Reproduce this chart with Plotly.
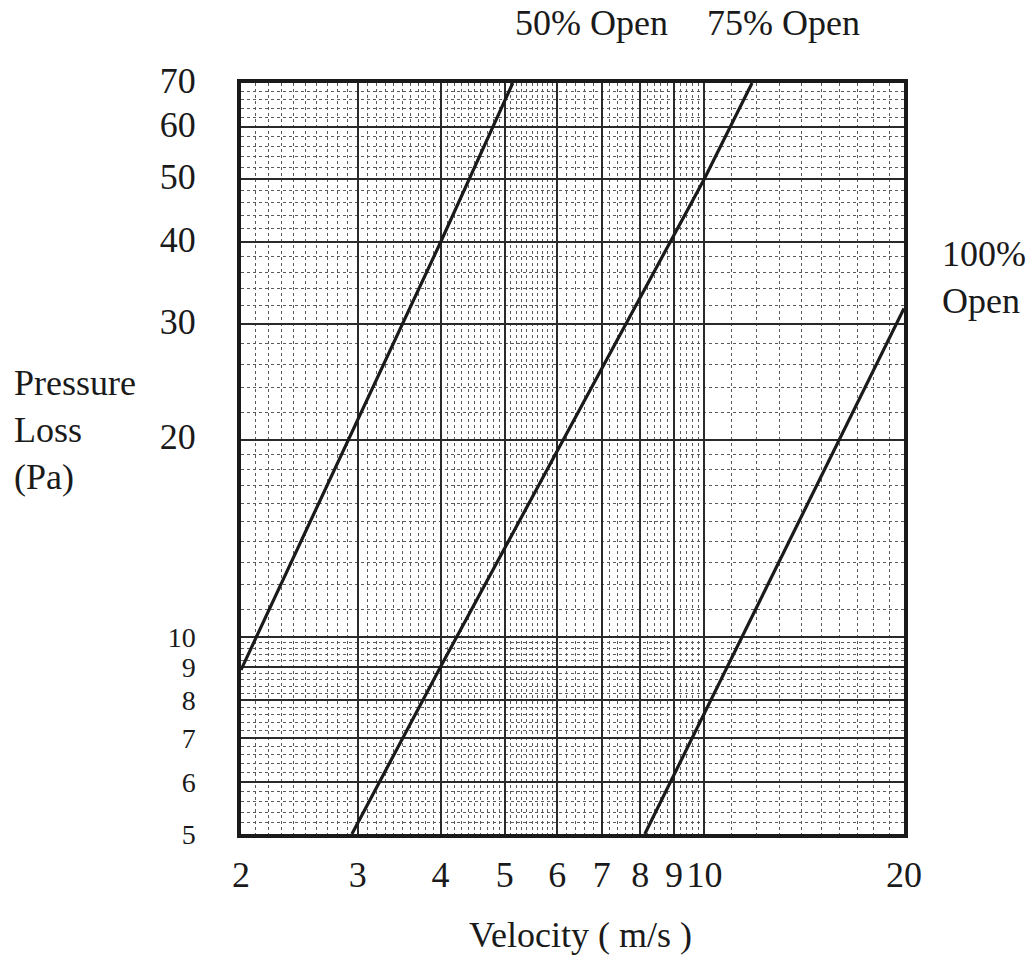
import numpy as np
import plotly.graph_objects as go

# ---- data ----
v_50 = [2.0, 4.0, 5.14]
p_50 = [8.9, 40.0, 70.0]

v_75 = [2.94, 4.0, 10.0, 11.8]
p_75 = [5.0, 9.0, 50.0, 70.0]

v_100 = [8.13, 11.4, 20.0]
p_100 = [5.0, 10.0, 31.7]

x_ticks = [2, 3, 4, 5, 6, 7, 8, 9, 10, 20]
x_ticktext = ["2", "3", "4", "5", "6", "7", "8", "9", "10", "20"]
y_ticks = [5, 6, 7, 8, 9, 10, 20, 30, 40, 50, 60, 70]
y_ticktext = ["5", "6", "7", "8", "9", "10", "20", "30", "40", "50", "60", "70"]

series_names = ["50% Open", "75% Open", "100% Open"]

# ---- graph-paper minor grid ----
def steps(a, b, s):
    vals = np.arange(a + s, b - s / 2, s)
    return [round(float(v), 3) for v in vals]

x_minor = steps(2, 6, 0.1) + steps(6, 10, 0.2) + steps(10, 20, 1)
x_minor = [v for v in x_minor if v not in x_ticks]
y_minor = steps(5, 10, 0.2) + steps(10, 20, 1) + steps(20, 70, 2)
y_minor = [v for v in y_minor if v not in y_ticks]

FONT = "Liberation Serif, Times New Roman, serif"
INK = "#1a1a1a"

# labels of the tightly packed 5-10 decade use a smaller base size so they do not collide;
# the widely spaced labels of the upper decade keep the full size
y_ticklabels = [t if v <= 10 else f'<span style="font-size:36px">{t}</span>'
                for v, t in zip(y_ticks, y_ticktext)]

fig = go.Figure()
for xs, ys, nm in zip([v_50, v_75, v_100], [p_50, p_75, p_100], series_names):
    fig.add_trace(go.Scatter(x=xs, y=ys, mode="lines", name=nm,
                             line=dict(color=INK, width=3.2),
                             showlegend=False, hoverinfo="x+y+name"))

fig.update_xaxes(
    type="log", range=[np.log10(2), np.log10(20)],
    tickvals=x_ticks, ticktext=x_ticktext,
    ticks="", ticklabelstandoff=6,
    tickfont=dict(family=FONT, size=36, color=INK),
    showgrid=True, gridcolor="#2a2a2a", gridwidth=2,
    showline=True, linecolor=INK, linewidth=3.5, mirror=True,
    zeroline=False,
    minor=dict(tickvals=x_minor, showgrid=True, gridcolor="#5a5a5a",
               gridwidth=1, griddash="dot", ticks=""),
)
fig.update_yaxes(
    type="log", range=[np.log10(5), np.log10(70)],
    tickvals=y_ticks, ticktext=y_ticklabels,
    ticks="", ticklabelstandoff=36,
    tickfont=dict(family=FONT, size=28, color=INK),
    showgrid=True, gridcolor="#2a2a2a", gridwidth=2,
    showline=True, linecolor=INK, linewidth=3.5, mirror=True,
    zeroline=False,
    minor=dict(tickvals=y_minor, showgrid=True, gridcolor="#5a5a5a",
               gridwidth=1, griddash="dot", ticks=""),
)

L, R, T, B = 241, 129, 83, 132
W, H = 1033, 966
pw, ph = W - L - R, H - T - B

def px(xpix):
    return (xpix - L) / pw

def py(ypix):
    return (H - B - ypix) / ph

ann_font = dict(family=FONT, size=36, color=INK)
fig.add_annotation(text="50% Open", x=px(513), y=py(23), xref="paper", yref="paper",
                   xanchor="left", yanchor="middle", showarrow=False, font=ann_font)
fig.add_annotation(text="75% Open", x=px(705), y=py(23), xref="paper", yref="paper",
                   xanchor="left", yanchor="middle", showarrow=False, font=ann_font)
fig.add_annotation(text="100%<br>Open", x=px(940), y=py(277), xref="paper", yref="paper",
                   xanchor="left", yanchor="middle", align="left", showarrow=False, font=ann_font)
fig.add_annotation(text="Pressure<br>Loss<br>(Pa)", x=px(12), y=py(430), xref="paper", yref="paper",
                   xanchor="left", yanchor="middle", align="left", showarrow=False, font=ann_font)
fig.add_annotation(text="Velocity ( m/s )", x=px(580), y=py(935), xref="paper", yref="paper",
                   xanchor="center", yanchor="middle", showarrow=False, font=ann_font)

fig.update_layout(
    width=W, height=H,
    margin=dict(l=L, r=R, t=T, b=B),
    paper_bgcolor="white", plot_bgcolor="white",
    font=dict(family=FONT, color=INK),
)

fig.write_html("out.html",
               config={"displayModeBar": False},
               post_script="document.body.style.margin='0';document.body.style.overflow='hidden';")
